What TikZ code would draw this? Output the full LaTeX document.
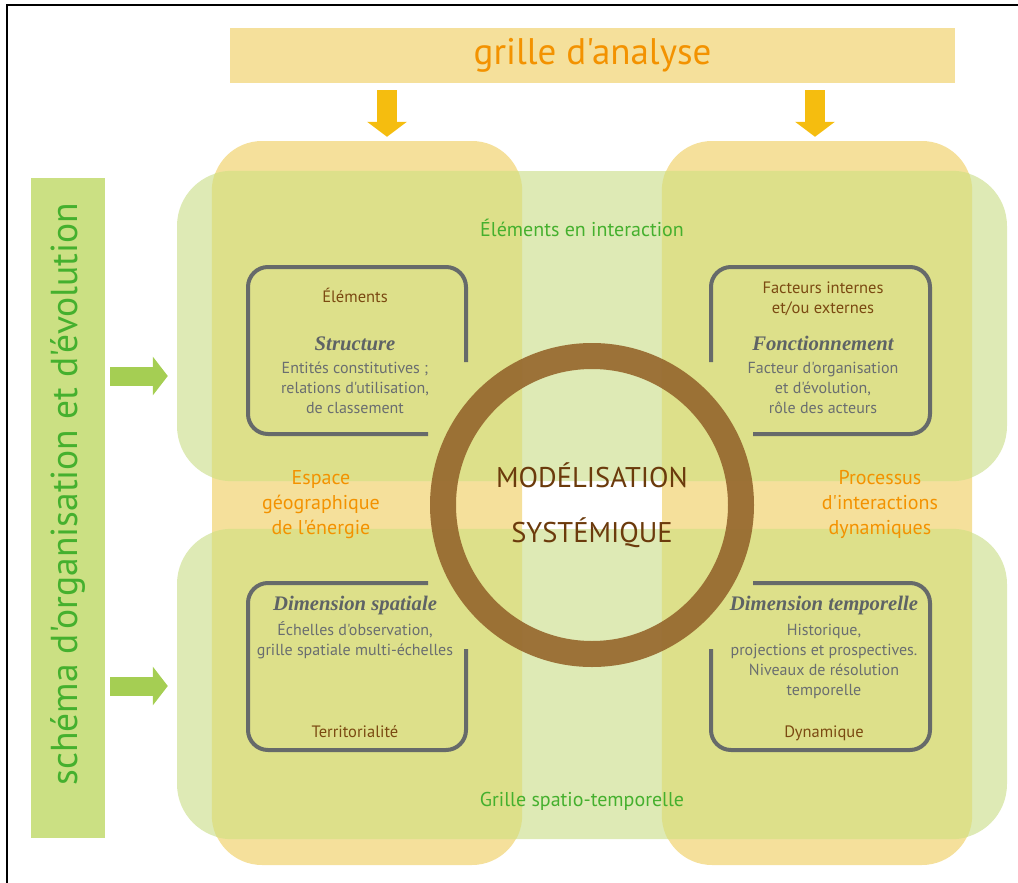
\documentclass[tikz,border=0pt]{standalone}
\usepackage{fontspec}
\setmainfont{PT Sans}[Ligatures=TeXOff]
\newfontfamily\headfont{Liberation Serif}
\usetikzlibrary{arrows.meta}

\definecolor{ochre}{HTML}{F5E09B}
\definecolor{leaf}{HTML}{DEEAB5}
\definecolor{olive}{HTML}{DDE08A}
\definecolor{barfill}{HTML}{CBE083}
\definecolor{ringcol}{HTML}{97692F}
\definecolor{framecol}{HTML}{666A6A}
\definecolor{bodytext}{HTML}{6A6E70}
\definecolor{headgray}{HTML}{5E6365}
\definecolor{browntext}{HTML}{7B4A12}
\definecolor{titletext}{HTML}{6B3A0C}
\definecolor{orangetext}{HTML}{F39200}
\definecolor{greentext}{HTML}{45B02E}
\definecolor{goldarrow}{HTML}{F5BD0F}
\definecolor{greenarrow}{HTML}{A5CE53}

\begin{document}
\begin{tikzpicture}[x=1pt, y=-1pt,
  pillar/.style={fill=ochre, rounded corners=50pt, minimum width=310pt,
    minimum height=724pt, inner sep=0pt},
  band/.style={fill=leaf, rounded corners=55pt, minimum width=830pt,
    minimum height=310pt, inner sep=0pt},
  frameline/.style={draw=framecol, line width=4pt, rounded corners=20pt},
  body/.style={text=bodytext, font=\fontsize{16}{20}\selectfont,
    align=center, anchor=base, inner sep=0pt},
  head/.style={text=headgray, font=\headfont\bfseries\itshape\fontsize{20.7}{20}\selectfont,
    anchor=base, inner sep=0pt},
  tag/.style={text=browntext, font=\fontsize{16.5}{20}\selectfont,
    align=center, anchor=base, inner sep=0pt},
  side/.style={text=orangetext, font=\fontsize{20}{25}\selectfont,
    align=center, anchor=base, inner sep=0pt},
  link/.style={text=greentext, font=\fontsize{20}{25}\selectfont,
    anchor=base, inner sep=0pt},
  down/.style={draw=goldarrow, line width=20pt,
    -{Triangle[width=39pt, length=15pt]}, shorten <=7pt, shorten >=4pt},
  right/.style={draw=greenarrow, line width=19pt,
    -{Triangle[width=38pt, length=15pt]}, shorten <=5pt, shorten >=9pt}]
\useasboundingbox (0,0) rectangle (1018,883);
\draw[black, line width=1.3pt] (7,883) -- (7,5) -- (1018,5);

% the two columns and the two bands
\node[pillar] (colL) at (367,503) {};
\node[pillar] (colR) at (817,503) {};
\node[band] (bandT) at (592,326) {};
\node[band] (bandB) at (592,684) {};
\begin{scope}
  \clip[rounded corners=55pt] (bandT.north west) rectangle (bandT.south east)
    (bandB.north west) rectangle (bandB.south east);
  \fill[olive, rounded corners=50pt] (colL.north west) rectangle (colL.south east)
    (colR.north west) rectangle (colR.south east);
\end{scope}

% grille d'analyse
\node[fill=ochre, minimum width=725pt, minimum height=55pt, text=orangetext,
  font=\fontsize{37}{37}\selectfont] (grille) at (592.5,55.5) {grille d'analyse};
\coordinate (aL) at (387,0);
\coordinate (aR) at (815,0);
\draw[down] (grille.south -| aL) -- (colL.north -| aL);
\draw[down] (grille.south -| aR) -- (colR.north -| aR);

% schema d'organisation
\node[fill=barfill, minimum width=74pt, minimum height=660pt] (schema) at (68,508) {};
\node[rotate=90, text=greentext, font=\fontsize{37.5}{37.5}\selectfont]
  (schematxt) at (68,494) {schéma d'organisation et d'évolution};
\coordinate (aT) at (0,376);
\coordinate (aB) at (0,686);
\draw[right] (schema.east |- aT) -- (bandT.west |- aT);
\draw[right] (schema.east |- aB) -- (bandB.west |- aB);

\node[link] (inter) at (582,236) {Éléments en interaction};
\node[link] (grillest) at (582,806) {Grille spatio-temporelle};
\node[side] (espace) at (321,534) {Espace\\géographique\\de l'énergie};
\node[side] (processus) at (880,534) {Processus\\d'interactions\\dynamiques};

% the four quarters
\draw[frameline] (466,362) -- (466,267) -- (248,267) -- (248,434) -- (428,434);
\node[tag] (elements) at (355,302) {Éléments};
\node[head] (structure) at (355,350) {Structure};
\node[body] (structtxt) at (355,413)
  {Entités constitutives ;\\relations d'utilisation,\\de classement};

\draw[frameline] (711,362) -- (711,267) -- (930,267) -- (930,434) -- (753,434);
\node[tag] (facteurs) at (823,313) {Facteurs internes\\et/ou externes};
\node[head] (fonction) at (823,350) {Fonctionnement};
\node[body] (fonctxt) at (823,413)
  {Facteur d'organisation\\et d'évolution,\\rôle des acteurs};

\draw[frameline] (428,583) -- (248,583) -- (248,750) -- (466,750) -- (466,649);
\node[head] (spatiale) at (355,610) {Dimension spatiale};
\node[body] (spattxt) at (355,655)
  {Échelles d'observation,\\grille spatiale multi-échelles};
\node[tag] (territ) at (355,737) {Territorialité};

\draw[frameline] (753,583) -- (930,583) -- (930,750) -- (711,750) -- (711,649);
\node[head] (temporelle) at (824,610) {Dimension temporelle};
\node[body] (temptxt) at (824,695)
  {Historique,\\projections et prospectives.\\Niveaux de résolution\\temporelle};
\node[tag] (dynamique) at (824,737) {Dynamique};

% the ring
\node[text=titletext, align=center, font=\fontsize{28.5}{55}\selectfont]
  (model) at (592,505) {MODÉLISATION\\SYSTÉMIQUE};
\draw[ringcol, line width=26pt, opacity=.93] (model.center) circle[radius=149pt];
\end{tikzpicture}
\end{document}
